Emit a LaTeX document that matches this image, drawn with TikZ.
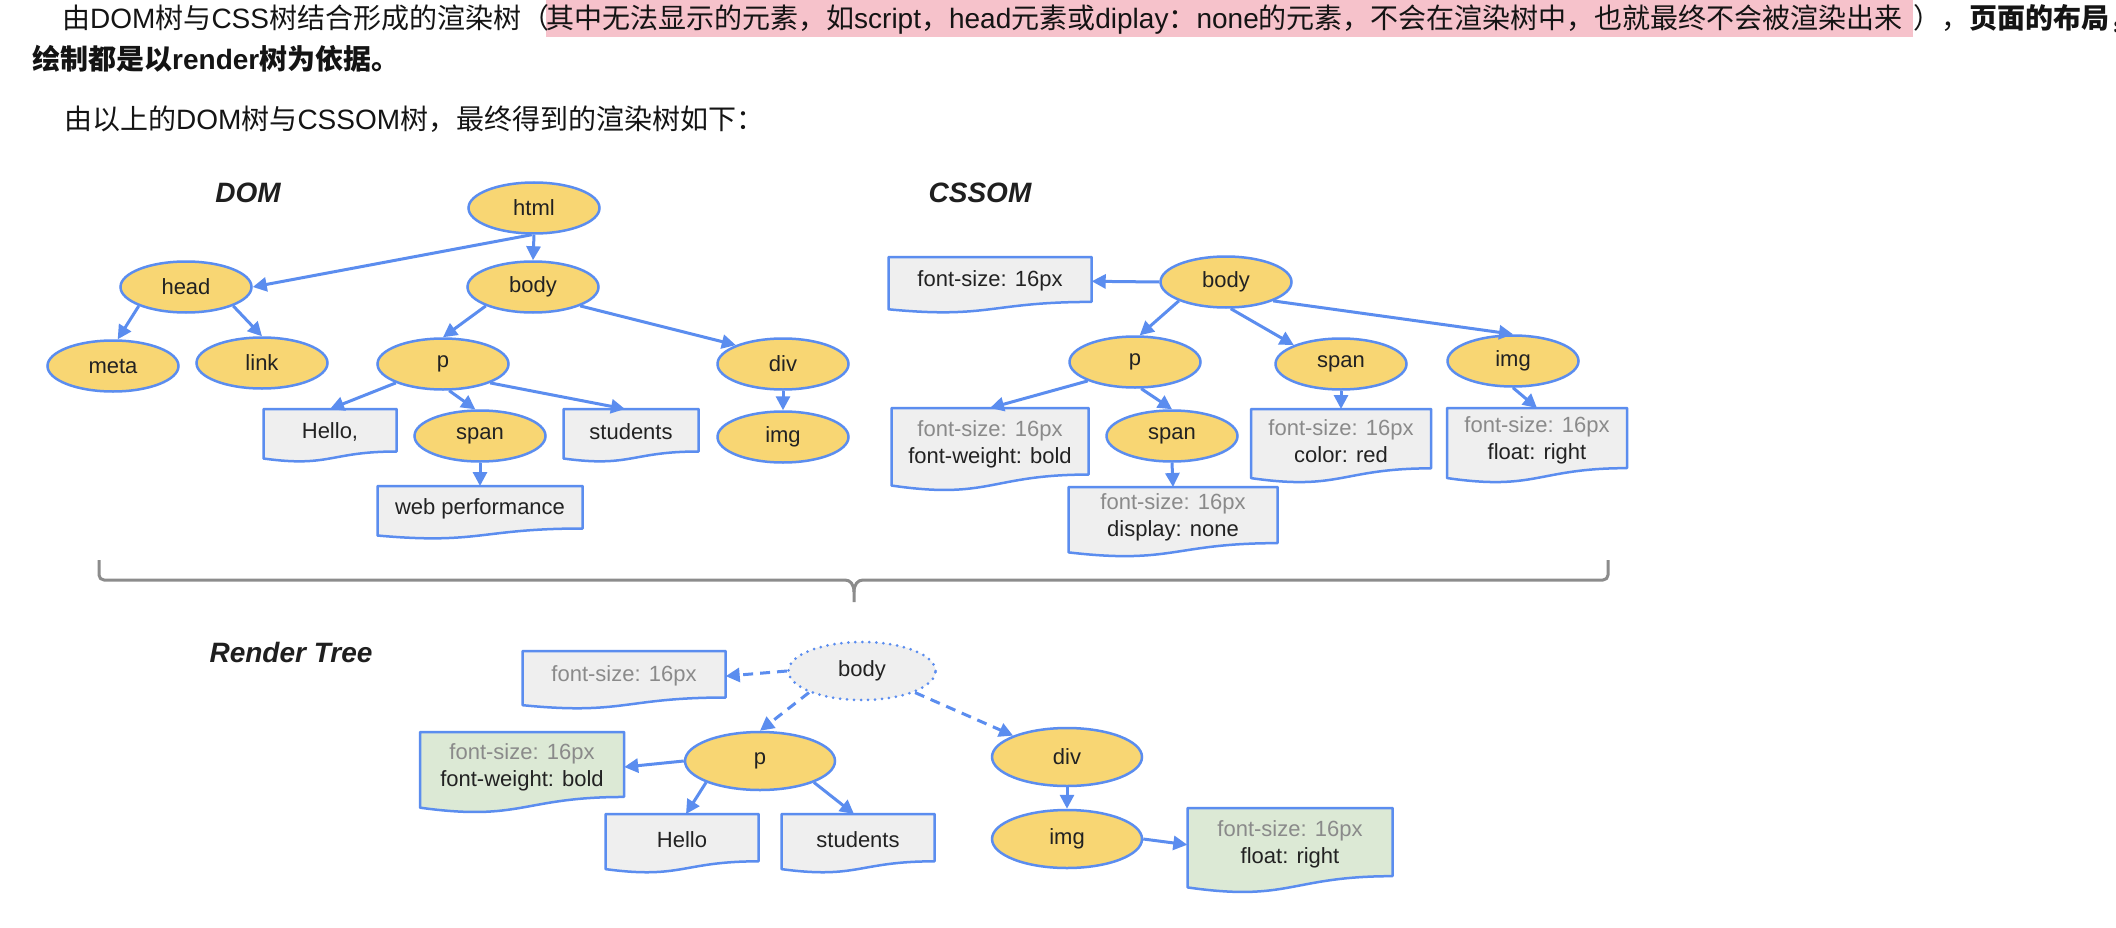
\documentclass[tikz,border=0pt]{standalone}
\usepackage{fontspec}
\setmainfont{Liberation Sans}
\newfontfamily\cjkf{Noto Sans CJK SC}
\newfontfamily\latf{Liberation Sans}
\newcommand\latw[1]{{\latf #1}}
\usetikzlibrary{shapes.geometric,arrows.meta}
\definecolor{lineblue}{HTML}{5B8DEF}
\definecolor{ellfill}{HTML}{F8D673}
\definecolor{boxgray}{HTML}{EFEFEF}
\definecolor{boxgreen}{HTML}{DCE9D5}
\definecolor{txtgray}{HTML}{8A8A8A}
\definecolor{txtdark}{HTML}{222222}
\definecolor{bracegray}{HTML}{8C8C8C}
\definecolor{pinkhl}{HTML}{F6C2CB}
\newcommand\docbox[7]{%
  \pgfmathsetmacro\dbl{#2-#4/2}%
  \pgfmathsetmacro\dbr{#2+#4/2}%
  \pgfmathsetmacro\dbrb{#3+0.802*#5}%
  \pgfmathsetmacro\dblb{#3+0.934*#5}%
  \pgfmathsetmacro\dbcb{#3+1.108*#5}%
  \filldraw[docline,fill=#6] (\dbl,#3) -- (\dbr,#3) -- (\dbr,\dbrb) .. controls (#2,\dbrb) and (#2,\dbcb) .. (\dbl,\dblb) -- cycle;
  \node[doctext, minimum width=#4, minimum height={0.86*#5}, anchor=north] (#1) at (#2,#3) {#7};
}
\newcommand\gr[1]{{\color{txtgray}#1}}
\begin{document}
\begin{tikzpicture}[x=1pt,y=-1pt,
  font=\fontsize{22}{27}\selectfont,
  ell/.style={ellipse, draw=lineblue, line width=2.5pt, fill=ellfill, inner sep=0pt,
    minimum width=131pt, minimum height=51pt, text=txtdark},
  bigell/.style={ell, minimum width=150pt, minimum height=58pt},
  arr/.style={draw=lineblue, line width=3pt, -{Triangle[length=14pt,width=14pt]}},
  dasharr/.style={arr, dash pattern=on 10pt off 7pt},
  doctext/.style={inner sep=0pt, align=center, text=txtdark},
  docline/.style={draw=lineblue, line width=2.5pt, line join=round},
  title/.style={font=\fontsize{28}{34}\selectfont\bfseries\itshape, text=black!88, inner sep=0pt},
  toptext/.style={inner sep=0pt, font=\fontsize{28}{34}\selectfont\cjkf, text=black!92},
  brace/.style={draw=bracegray, line width=3pt, line join=round}
]
\useasboundingbox (0,0) rectangle (2116,928);
\fill[white] (0,0) rectangle (2116,928);

% ---------- header text ----------
\fill[pinkhl] (546,0) rectangle (1913,37);
\node[toptext, anchor=base west] (t1) at (62,28.5) {由\latw{DOM}树与\latw{CSS}树结合形成的渲染树（};
\node[toptext, anchor=base west] (t2) at (546,28.5) {其中无法显示的元素，如\latw{script}，\latw{head}元素或\latw{diplay}：\latw{none}的元素，不会在渲染树中，也就最终不会被渲染出来};
\node[toptext, anchor=base west] (t3) at (1913,28.5) {），\bfseries 页面的布局，};
\node[toptext, anchor=base west] (t4) at (32,70) {\bfseries 绘制都是以\latw{render}树为依据。};
\node[toptext, anchor=base west] (t5) at (64,130) {由以上的\latw{DOM}树与\latw{CSSOM}树，最终得到的渲染树如下：};

% ---------- titles ----------
\node[title] (tdom) at (248,193) {DOM};
\node[title] (tcss) at (980,193) {CSSOM};
\node[title] (trt) at (291,652) {Render Tree};

% ---------- DOM ----------
\node[ell] (html) at (534,208) {html};
\node[ell] (head) at (186,287) {head};
\node[ell] (body) at (533,287) {body};
\node[ell] (meta) at (113,366) {meta};
\node[ell] (link) at (262,363) {link};
\node[ell] (p) at (443,364) {p};
\node[ell] (div) at (783,364) {div};
\node[ell] (span) at (480,436) {span};
\node[ell] (img) at (783,437) {img};
\docbox{hello}{330}{409}{133}{53}{boxgray}{Hello,}
\docbox{students}{631}{409}{135}{53}{boxgray}{students}
\docbox{web}{480}{486}{205}{53}{boxgray}{web performance}

\draw[arr] (html.265) -- (head.east);
\draw[arr] (html.south) -- (body.north);
\draw[arr] (head.south west) -- (meta.80);
\draw[arr] (head.south east) -- (link.north);
\draw[arr] (body.south west) -- (p.north);
\draw[arr] (body.south east) -- (div.north west);
\draw[arr] (p.south west) -- (hello.north);
\draw[arr] (p.283) -- (span.100);
\draw[arr] (p.south east) -- ([xshift=-6pt]students.north);
\draw[arr] (div.south) -- (img.north);
\draw[arr] (span.south) -- (web.north);

% ---------- CSSOM ----------
\node[ell] (cbody) at (1226,282) {body};
\node[ell] (cp) at (1135,362) {p};
\node[ell] (cspan) at (1341,364) {span};
\node[ell] (cimg) at (1513,361) {img};
\node[ell] (cspantwo) at (1172,436) {span};
\docbox{cfs}{990}{257}{203}{56}{boxgray}{font-size: 16px}
\docbox{pbox}{990}{408}{197}{83}{boxgray}{\gr{font-size: 16px}\\font-weight: bold}
\docbox{spanbox}{1341}{409}{180}{74}{boxgray}{\gr{font-size: 16px}\\color: red}
\docbox{imgbox}{1537}{408}{180}{75}{boxgray}{\gr{font-size: 16px}\\float: right}
\docbox{dispbox}{1173}{487}{209}{70}{boxgray}{\gr{font-size: 16px}\\display: none}

\draw[arr] (cbody.west) -- (cfs.east);
\draw[arr] (cbody.south west) -- (cp.80);
\draw[arr] (cbody.280) -- (cspan.north west);
\draw[arr] (cbody.south east) -- (cimg.north);
\draw[arr] (cp.south west) -- (pbox.north);
\draw[arr] (cp.283) -- (cspantwo.north);
\draw[arr] (cspan.south) -- (spanbox.north);
\draw[arr] (cimg.south) -- (imgbox.north);
\draw[arr] (cspantwo.south) -- (dispbox.north);

% ---------- brace ----------
\coordinate (bl) at (99,560);
\coordinate (br) at (1608,560);
\coordinate (btip) at (854,602);
\draw[brace] (bl) [rounded corners=5pt] -- (99,580) -- (840,580) [sharp corners] .. controls (850,580) and (854,584) .. (854,592) -- (btip);
\draw[brace] (br) [rounded corners=5pt] -- (1608,580) -- (868,580) [sharp corners] .. controls (858,580) and (854,584) .. (854,592);

% ---------- Render tree ----------
\node[bigell, fill=boxgray, draw=lineblue, dash pattern=on 0pt off 7pt, line cap=round, line width=3pt, minimum width=147pt] (rbody) at (862,671) {body};
\node[bigell] (rp) at (760,761) {p};
\node[bigell] (rdiv) at (1067,757) {div};
\node[bigell] (rimg) at (1067,839) {img};
\docbox{rfs}{624}{651}{203}{58}{boxgray}{\gr{font-size: 16px}}
\docbox{rgreen}{522}{732}{204}{81}{boxgreen}{\gr{font-size: 16px}\\font-weight: bold}
\docbox{rhello}{682}{814}{153}{59}{boxgray}{Hello}
\docbox{rstud}{858}{814}{153}{59}{boxgray}{students}
\docbox{rfloat}{1290}{808}{205}{85}{boxgreen}{\gr{font-size: 16px}\\float: right}

\draw[dasharr] (rbody.west) -- (rfs.east);
\draw[dasharr] (rbody.south west) -- (rp.north);
\draw[dasharr] (rbody.south east) -- (rdiv.north west);
\draw[arr] (rp.west) -- (rgreen.east);
\draw[arr] (rp.south west) -- ([xshift=4pt]rhello.north);
\draw[arr] (rp.south east) -- ([xshift=-4pt]rstud.north);
\draw[arr] (rdiv.south) -- (rimg.north);
\draw[arr] (rimg.east) -- (rfloat.west);
\end{tikzpicture}
\end{document}
